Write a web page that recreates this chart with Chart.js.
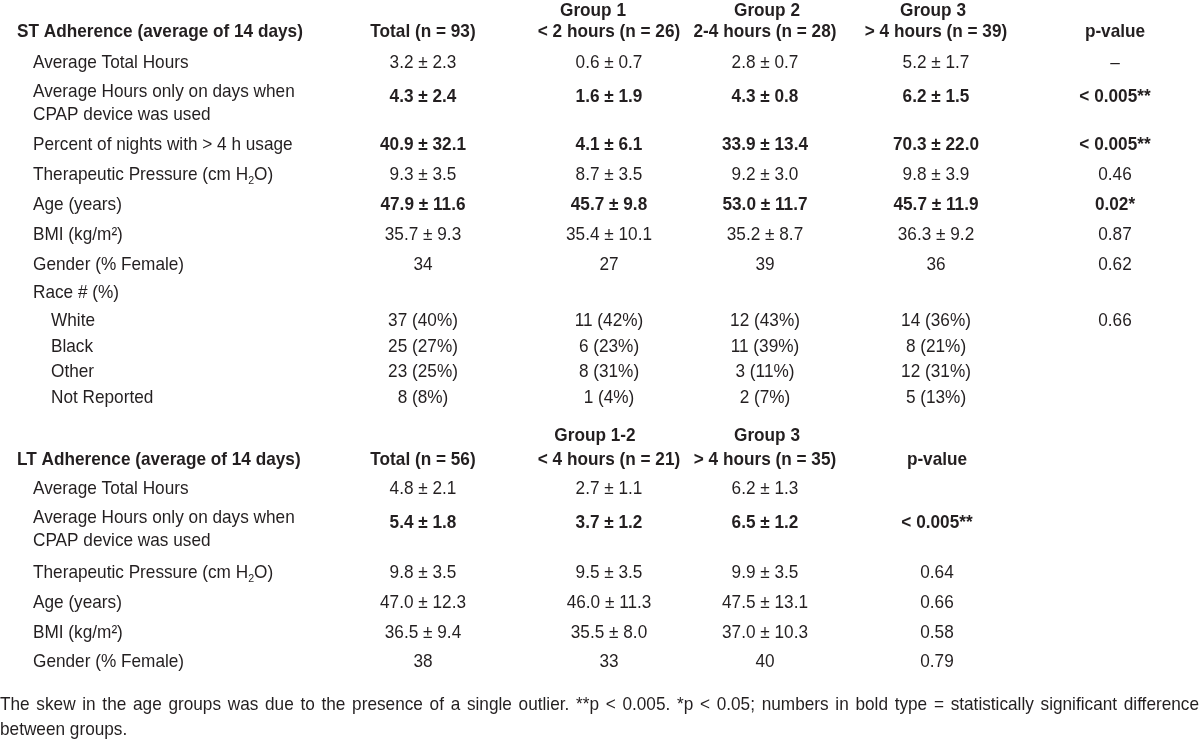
<!DOCTYPE html>
<html>
<head>
<meta charset="utf-8">
<script src="https://cdn.jsdelivr.net/npm/chart.js@4.4.1/dist/chart.umd.min.js"></script>
<style>
  html, body { margin: 0; padding: 0; background: #fff; }
  #tableChart { display: block; }
</style>
</head>
<body>
<canvas id="tableChart" width="1200" height="741"></canvas>
<script>
// ---- data: ST adherence (14 days) ----
const stTitle = 'ST Adherence (average of 14 days)';
const stHeads = [['', 'Total (n = 93)'], ['Group 1', '< 2 hours (n = 26)'], ['Group 2', '2-4 hours (n = 28)'], ['Group 3', '> 4 hours (n = 39)'], ['', 'p-value']];
const stLabels = [
  ['Average Total Hours'],
  ['Average Hours only on days when', 'CPAP device was used'],
  ['Percent of nights with > 4 h usage'],
  ['Therapeutic Pressure (cm H_2O)'],
  ['Age (years)'],
  ['BMI (kg/m\u00b2)'],
  ['Gender (% Female)'],
  ['Race # (%)'],
  ['White'],
  ['Black'],
  ['Other'],
  ['Not Reported']
];
const stTotal = ['3.2 \u00b1 2.3', '4.3 \u00b1 2.4', '40.9 \u00b1 32.1', '9.3 \u00b1 3.5', '47.9 \u00b1 11.6', '35.7 \u00b1 9.3', '34', '', '37 (40%)', '25 (27%)', '23 (25%)', '8 (8%)'];
const stGroup1 = ['0.6 \u00b1 0.7', '1.6 \u00b1 1.9', '4.1 \u00b1 6.1', '8.7 \u00b1 3.5', '45.7 \u00b1 9.8', '35.4 \u00b1 10.1', '27', '', '11 (42%)', '6 (23%)', '8 (31%)', '1 (4%)'];
const stGroup2 = ['2.8 \u00b1 0.7', '4.3 \u00b1 0.8', '33.9 \u00b1 13.4', '9.2 \u00b1 3.0', '53.0 \u00b1 11.7', '35.2 \u00b1 8.7', '39', '', '12 (43%)', '11 (39%)', '3 (11%)', '2 (7%)'];
const stGroup3 = ['5.2 \u00b1 1.7', '6.2 \u00b1 1.5', '70.3 \u00b1 22.0', '9.8 \u00b1 3.9', '45.7 \u00b1 11.9', '36.3 \u00b1 9.2', '36', '', '14 (36%)', '8 (21%)', '12 (31%)', '5 (13%)'];
const stPValue = ['\u2013', '< 0.005**', '< 0.005**', '0.46', '0.02*', '0.87', '0.62', '', '0.66', '', '', ''];
const stSignificant = [false, true, true, false, true, false, false, false, false, false, false, false];
const stSubItem = [false, false, false, false, false, false, false, false, true, true, true, true];

// ---- data: LT adherence ----
const ltTitle = 'LT Adherence (average of 14 days)';
const ltHeads = [['', 'Total (n = 56)'], ['Group 1-2', '< 4 hours (n = 21)'], ['Group 3', '> 4 hours (n = 35)'], ['', 'p-value']];
const ltLabels = [
  ['Average Total Hours'],
  ['Average Hours only on days when', 'CPAP device was used'],
  ['Therapeutic Pressure (cm H_2O)'],
  ['Age (years)'],
  ['BMI (kg/m\u00b2)'],
  ['Gender (% Female)']
];
const ltTotal = ['4.8 \u00b1 2.1', '5.4 \u00b1 1.8', '9.8 \u00b1 3.5', '47.0 \u00b1 12.3', '36.5 \u00b1 9.4', '38'];
const ltGroup12 = ['2.7 \u00b1 1.1', '3.7 \u00b1 1.2', '9.5 \u00b1 3.5', '46.0 \u00b1 11.3', '35.5 \u00b1 8.0', '33'];
const ltGroup3 = ['6.2 \u00b1 1.3', '6.5 \u00b1 1.2', '9.9 \u00b1 3.5', '47.5 \u00b1 13.1', '37.0 \u00b1 10.3', '40'];
const ltPValue = ['', '< 0.005**', '0.64', '0.66', '0.58', '0.79'];
const ltSignificant = [false, true, false, false, false, false];

const footnote = ['The skew in the age groups was due to the presence of a single outlier. **p < 0.005. *p < 0.05; numbers in bold type = statistically significant difference', 'between groups.'];

// ---- layout (value units of the x/y scales below) ----
const FONT = '"Liberation Sans", Arial, sans-serif';
const SIZE = 18.5;
const SQUEEZE = 0.93;  // source type is a narrow face
const INK = '#231f20';
const xTitle = 17, xLabel = 33, xSubLabel = 51;
const stColX = [423, 609, 765, 936, 1115];
const stHeadX = [423, 593, 767, 933, 1115];
const stHeadY = [11, 32];
const stRowY = [63, 97, 145, 175, 205, 235, 265, 293, 321, 347, 372, 398];
const ltColX = [423, 609, 765, 937];
const ltHeadX = [423, 595, 767, 937];
const ltHeadY = [436, 460];
const ltRowY = [489, 523, 573, 603, 633, 662];
const footY = [705, 730];
const lineGap = 23;

function setFont(ctx, bold, size) {
  ctx.font = (bold ? 'bold ' : '') + size + 'px ' + FONT;
}

// text with "_2" style subscripts
function segments(text) {
  const parts = text.split(/_(\d)/);
  return parts.map((t, i) => ({ t: t, sub: i % 2 === 1 })).filter(s => s.t !== '');
}

function drawText(ctx, text, x, y, bold, align) {
  const segs = segments(text);
  let w = 0;
  segs.forEach(s => {
    setFont(ctx, bold, s.sub ? SIZE * 0.62 : SIZE);
    s.w = ctx.measureText(s.t).width;
    w += s.w;
  });
  let start = x;
  if (align === 'center') start = x - w * SQUEEZE / 2;
  ctx.save();
  ctx.translate(start, y);
  ctx.scale(SQUEEZE, 1);
  let cx = 0;
  segs.forEach(s => {
    setFont(ctx, bold, s.sub ? SIZE * 0.62 : SIZE);
    ctx.fillText(s.t, cx, s.sub ? 6 : 0);
    cx += s.w;
  });
  ctx.restore();
}

function drawJustified(ctx, text, x, y, width) {
  const words = text.split(' ');
  setFont(ctx, false, SIZE);
  const widths = words.map(wd => ctx.measureText(wd).width);
  const sum = widths.reduce((a, b) => a + b, 0);
  const space = ctx.measureText(' ').width;
  let sx = SQUEEZE;
  let gap = (width / sx - sum) / (words.length - 1);
  if (gap < space * 0.6) {
    gap = space * 0.6;
    sx = width / (sum + gap * (words.length - 1));
  }
  ctx.save();
  ctx.translate(x, y);
  ctx.scale(sx, 1);
  let cx = 0;
  words.forEach((wd, i) => {
    ctx.fillText(wd, cx, 0);
    cx += widths[i] + gap;
  });
  ctx.restore();
}

function drawBlock(ctx, sx, sy, title, heads, headX, headY, labels, cols, colX, rowY, sig, subItem) {
  drawText(ctx, title, sx(xTitle), sy(headY[1]), true, 'left');
  heads.forEach((h, i) => {
    if (h[0]) drawText(ctx, h[0], sx(headX[i]), sy(headY[0]), true, 'center');
    drawText(ctx, h[1], sx(colX[i]), sy(headY[1]), true, 'center');
  });
  labels.forEach((lines, r) => {
    const lx = subItem && subItem[r] ? xSubLabel : xLabel;
    const top = lines.length > 1 ? rowY[r] - 5 : rowY[r];
    lines.forEach((ln, k) => drawText(ctx, ln, sx(lx), sy(top + k * lineGap), false, 'left'));
    cols.forEach((col, c) => {
      if (col[r]) drawText(ctx, col[r], sx(colX[c]), sy(rowY[r]), sig[r], 'center');
    });
  });
}

const tablePlugin = {
  id: 'tableText',
  afterDraw(chart) {
    const ctx = chart.ctx;
    const sx = v => chart.scales.x.getPixelForValue(v);
    const sy = v => chart.scales.y.getPixelForValue(v);
    ctx.save();
    ctx.fillStyle = INK;
    ctx.textBaseline = 'middle';
    drawBlock(ctx, sx, sy, stTitle, stHeads, stHeadX, stHeadY, stLabels,
      [stTotal, stGroup1, stGroup2, stGroup3, stPValue], stColX, stRowY, stSignificant, stSubItem);
    drawBlock(ctx, sx, sy, ltTitle, ltHeads, ltHeadX, ltHeadY, ltLabels,
      [ltTotal, ltGroup12, ltGroup3, ltPValue], ltColX, ltRowY, ltSignificant, null);
    drawJustified(ctx, footnote[0], sx(0), sy(footY[0]), sx(1199) - sx(0));
    drawText(ctx, footnote[1], sx(0), sy(footY[1]), false, 'left');
    ctx.restore();
  }
};

new Chart(document.getElementById('tableChart'), {
  type: 'scatter',
  data: { datasets: [{ data: [], pointRadius: 0 }] },
  options: {
    responsive: false,
    animation: false,
    layout: { padding: 0 },
    scales: {
      x: { type: 'linear', min: 0, max: 1200, display: false },
      y: { type: 'linear', min: 0, max: 741, reverse: true, display: false }
    },
    plugins: { legend: { display: false }, tooltip: { enabled: false } }
  },
  plugins: [tablePlugin]
});
</script>
</body>
</html>
